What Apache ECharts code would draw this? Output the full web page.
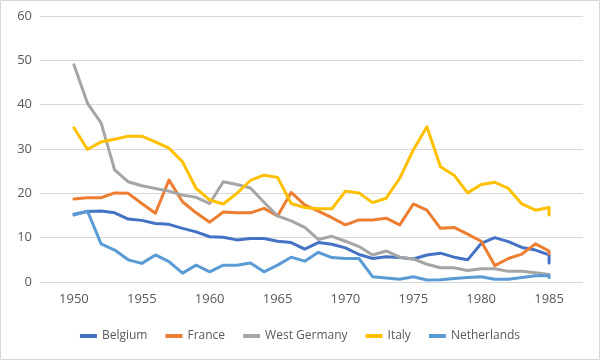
<!DOCTYPE html>
<html>
<head>
<meta charset="utf-8">
<script src="https://cdn.jsdelivr.net/npm/echarts@6/dist/echarts.min.js"></script>
<style>
html,body{margin:0;padding:0;background:#fff;}
#chart{width:600px;height:360px;}
</style>
</head>
<body>
<div id="chart"></div>
<script>
const years = [1950,1951,1952,1953,1954,1955,1956,1957,1958,1959,1960,1961,1962,1963,1964,1965,1966,1967,1968,1969,1970,1971,1972,1973,1974,1975,1976,1977,1978,1979,1980,1981,1982,1983,1984,1985,1985];
const belgium = [15.3,15.9,16.0,15.6,14.2,13.9,13.2,13.0,12.1,11.3,10.2,10.1,9.5,9.8,9.8,9.2,8.9,7.4,8.9,8.5,7.7,6.2,5.3,5.7,5.5,5.2,6.1,6.5,5.6,5.0,8.7,10.0,9.1,7.8,7.2,6.1,4.3];
const france = [18.7,19.0,19.0,20.1,20.0,17.7,15.5,23.0,18.1,15.6,13.5,15.8,15.6,15.6,16.6,14.9,20.2,17.4,16.0,14.5,12.9,14.0,14.0,14.4,12.9,17.6,16.2,12.1,12.3,10.8,9.2,3.7,5.3,6.3,8.6,7.0,6.4];
const westGermany = [49.0,40.3,35.9,25.3,22.6,21.7,21.1,20.5,19.6,19.1,17.7,22.6,22.0,21.2,18.0,14.9,13.8,12.3,9.6,10.3,9.2,8.0,6.1,7.0,5.6,5.2,4.0,3.2,3.2,2.6,3.0,3.0,2.4,2.4,2.1,1.7,1.6];
const italy = [34.8,29.9,31.6,32.2,32.9,32.9,31.6,30.2,27.1,21.1,18.5,17.6,20.0,22.9,24.1,23.6,17.7,16.8,16.5,16.5,20.5,20.1,17.9,18.9,23.4,29.8,35.0,26.0,24.1,20.1,22.0,22.5,21.1,17.6,16.2,16.8,15.1];
const netherlands = [15.1,16.0,8.6,7.2,5.0,4.2,6.1,4.6,2.0,3.8,2.3,3.8,3.8,4.3,2.3,3.8,5.6,4.7,6.7,5.5,5.3,5.3,1.2,0.9,0.6,1.2,0.45,0.5,0.8,1.0,1.2,0.6,0.6,1.0,1.4,1.4,1.0];
const xTickLabels = [1950,1955,1960,1965,1970,1975,1980,1985];
const seriesNames = ['Belgium','France','West Germany','Italy','Netherlands'];
const seriesValues = [belgium, france, westGermany, italy, netherlands];
const colors = ['#4472C4','#ED7D31','#A5A5A5','#FFC000','#5B9BD5'];

const chart = echarts.init(document.getElementById('chart'));
const font = 'Open Sans';
chart.setOption({
  animation: false,
  color: colors,
  grid: {left: 40, right: 17, top: 16, bottom: 78, containLabel: false},
  graphic: [{
    type: 'rect', silent: true,
    shape: {x: 0.5, y: 0.5, width: 599, height: 359},
    style: {fill: 'none', stroke: '#d9d9d9', lineWidth: 1}
  }],
  legend: {
    bottom: 13,
    left: 'center',
    icon: 'rect',
    itemWidth: 17,
    itemHeight: 4,
    itemGap: 18,
    textStyle: {color: '#595959', fontSize: 12, fontFamily: font},
    data: seriesNames
  },
  xAxis: {
    type: 'value',
    min: 1947.5,
    max: 1987.5,
    axisLine: {show: false},
    axisTick: {show: false},
    splitLine: {show: false},
    axisLabel: {
      customValues: xTickLabels,
      formatter: v => String(v),
      color: '#595959', fontSize: 13, fontFamily: font, margin: 11
    }
  },
  yAxis: {
    type: 'value',
    min: 0, max: 60, interval: 10,
    axisLine: {show: false},
    axisTick: {show: false},
    splitLine: {lineStyle: {color: '#d9d9d9', width: 1}},
    axisLabel: {color: '#595959', fontSize: 13, fontFamily: font, margin: 8}
  },
  series: seriesNames.map((name, i) => ({
    name: name,
    type: 'line',
    showSymbol: false,
    symbol: 'none',
    lineStyle: {width: 3, color: colors[i], cap: 'round', join: 'round'},
    data: years.map((y, k) => [y, seriesValues[i][k]])
  }))
});
</script>
</body>
</html>
